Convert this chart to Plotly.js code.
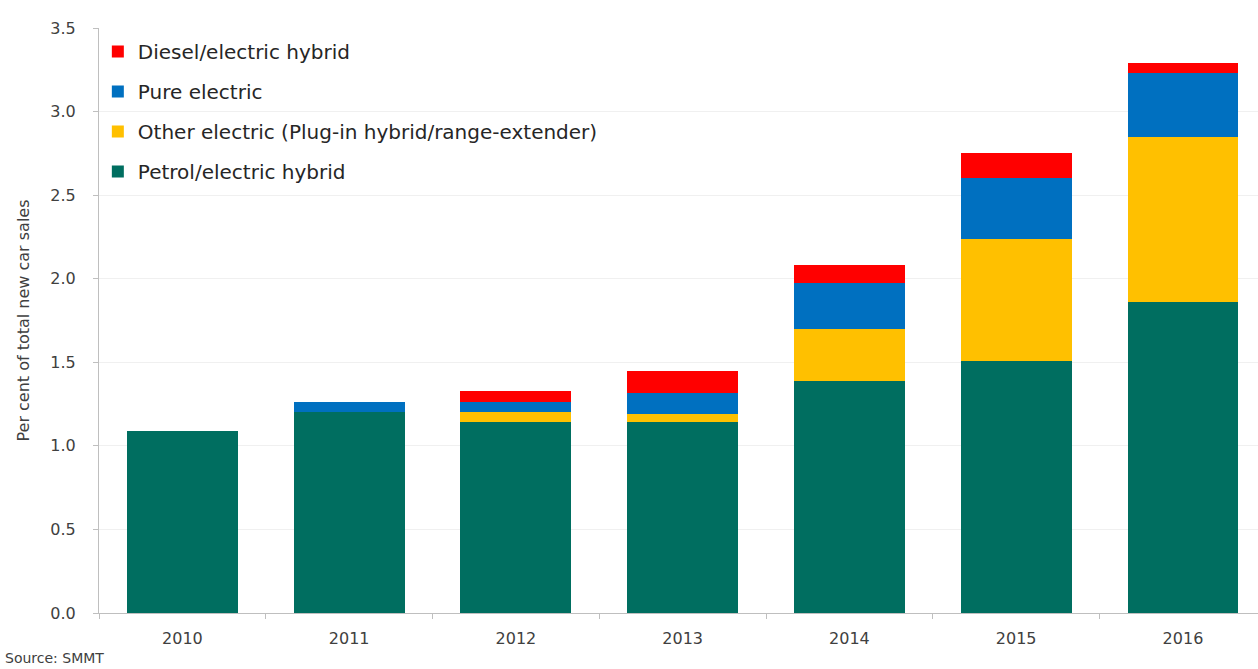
<!DOCTYPE html>
<html>
<head>
<meta charset="utf-8">
<script src="https://cdn.plot.ly/plotly-3.0.1.min.js"></script>
<style>html,body{margin:0;padding:0;background:#fff;}#chart{width:1258px;height:669px;}</style>
</head>
<body>
<div id="chart"></div>
<script>
const years = ["2010", "2011", "2012", "2013", "2014", "2015", "2016"];
const petrolHybrid = [1.09, 1.20, 1.145, 1.14, 1.39, 1.51, 1.86];
const otherElectric = [0, 0, 0.055, 0.05, 0.31, 0.725, 0.99];
const pureElectric = [0, 0.06, 0.06, 0.125, 0.275, 0.37, 0.38];
const dieselHybrid = [0, 0, 0.07, 0.13, 0.11, 0.15, 0.06];
const seriesNames = ["Petrol/electric hybrid", "Other electric (Plug-in hybrid/range-extender)", "Pure electric", "Diesel/electric hybrid"];
const seriesColors = ["#006e60", "#ffc000", "#0070c0", "#ff0000"];
const yTicks = [0, 0.5, 1, 1.5, 2, 2.5, 3, 3.5];
const yTickLabels = ["0.0", "0.5", "1.0", "1.5", "2.0", "2.5", "3.0", "3.5"];

const allSeries = [petrolHybrid, otherElectric, pureElectric, dieselHybrid];
const traces = allSeries.map((vals, i) => ({
  type: "bar",
  x: years,
  y: vals,
  name: seriesNames[i],
  legendgroup: "g" + i,
  legendrank: 1000 - i,
  marker: {color: seriesColors[i], line: {width: 0}},
  hoverinfo: "x+y+name"
}));

const layout = {
  width: 1258, height: 669,
  margin: {l: 99, r: 0, t: 28, b: 56},
  paper_bgcolor: "#ffffff",
  plot_bgcolor: "#ffffff",
  barmode: "stack",
  bargap: 0.335,
  font: {family: "'DejaVu Sans', sans-serif", color: "#404040"},
  showlegend: true,
  legend: {
    x: -0.001, y: 0.993, xanchor: "left", yanchor: "top",
    traceorder: "grouped",
    tracegroupgap: 11,
    font: {size: 20, color: "#262626"},
    bgcolor: "rgba(255,255,255,0)",
    itemwidth: 30
  },
  xaxis: {
    type: "category",
    range: [-0.5, 6.45],
    showline: true, linecolor: "#bfbfbf", linewidth: 1,
    ticks: "outside", tickson: "boundaries", ticklen: 5, tickcolor: "#bfbfbf",
    showgrid: false, zeroline: false,
    tickfont: {size: 16, color: "#404040"},
    ticklabelstandoff: 11
  },
  yaxis: {
    range: [0, 3.5],
    tickvals: yTicks, ticktext: yTickLabels,
    showline: true, linecolor: "#bfbfbf", linewidth: 1,
    ticks: "outside", ticklen: 5, tickcolor: "#bfbfbf",
    showgrid: true, gridcolor: "#f0f0f0", gridwidth: 1,
    zeroline: false,
    tickfont: {size: 16, color: "#404040"},
    ticklabelstandoff: 14,
    title: {text: "Per cent of total new car sales", font: {size: 16, color: "#404040"}, standoff: 16}
  },
  annotations: [{
    text: "Source: SMMT", xref: "paper", yref: "paper",
    x: -0.083, y: -0.06, xanchor: "left", yanchor: "top",
    showarrow: false, font: {size: 14, color: "#404040"}
  }]
};

Plotly.newPlot("chart", traces, layout, {displayModeBar: false, staticPlot: true});
</script>
</body>
</html>
